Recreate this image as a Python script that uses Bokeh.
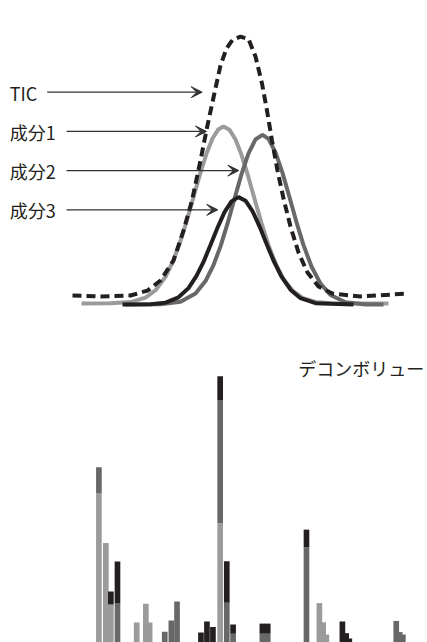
from bokeh.plotting import figure
from bokeh.layouts import column
from bokeh.models import ColumnDataSource, Range1d, Arrow, VeeHead
from bokeh.core.properties import value
from bokeh.embed import file_html
from bokeh.resources import INLINE
import pandas as pd

# ---------------- chromatogram (retention time, relative intensity) ----------------
tic_t = [6.4, 9.2, 12.2, 13.9, 15.2, 16.5, 17.5, 18.35, 19.2, 19.85, 20.5, 21.2, 21.8, 22.4,
         23.2, 24.0, 24.7, 25.35, 25.85, 26.35, 26.9, 27.5, 28.2, 29.0, 29.9, 31.0, 32.4, 35.2, 39.9]
tic_y = [4.5, 4.0, 4.5, 7.3, 13.0, 24.3, 41.2, 58.2, 80.8, 99.4, 116.4, 134.5, 144.1, 148.9,
         150.8, 149.4, 139.5, 124.3, 109.0, 92.1, 75.1, 59.3, 43.5, 28.8, 17.5, 9.6, 5.6, 4.0, 5.6]

c1_t = [7.3, 10.2, 12.2, 13.7, 14.7, 15.7, 16.4, 17.1, 17.8, 18.5, 19.2, 19.8, 20.4, 21.0, 21.5,
        22.1, 22.7, 23.3, 23.9, 24.6, 25.3, 26.0, 26.7, 27.5, 28.4, 29.4, 30.7, 32.2, 38.0]
c1_y = [0.0, 0.1, 0.8, 3.3, 7.5, 15.1, 23.2, 33.6, 46.2, 60.0, 74.0, 84.7, 93.2, 98.5, 100.0,
        98.2, 92.7, 84.0, 73.2, 59.2, 45.4, 33.0, 22.7, 13.8, 7.3, 3.2, 0.9, 0.2, 0.0]

c2_t = [11.7, 15.2, 17.2, 18.7, 19.7, 20.5, 21.2, 21.9, 22.6, 23.3, 24.0, 24.7, 25.4, 26.0,
        26.7, 27.4, 28.1, 28.8, 29.5, 30.3, 31.2, 32.2, 33.7, 35.7, 37.5]
c2_y = [-0.6, -0.4, 1.0, 5.6, 12.7, 21.7, 32.3, 45.1, 59.2, 73.1, 84.8, 92.7, 95.3, 93.0,
        85.4, 73.8, 60.0, 45.9, 33.0, 20.9, 11.2, 4.8, 0.7, -0.5, -0.6]

c3_t = [11.4, 14.2, 15.7, 17.0, 18.0, 18.8, 19.5, 20.2, 20.9, 21.6, 22.3, 23.0, 23.7, 24.4,
        25.1, 25.8, 26.5, 27.3, 28.2, 29.2, 30.7, 34.5]
c3_y = [-0.6, -0.4, 0.5, 3.5, 8.7, 15.6, 23.5, 33.0, 42.8, 51.6, 57.7, 60.1, 58.1, 52.2,
        43.6, 33.8, 24.3, 15.2, 7.8, 3.0, 0.2, -0.6]

curve_labels = ["TIC", "成分1", "成分2", "成分3"]

# ---------------- deconvoluted spectrum (m/z, stacked component intensities) ----------------
mz    = [28.7, 30.9, 32.5, 34.6, 40.7, 43.6, 44.8, 49.6, 51.7, 53.5, 61.1, 63.0, 64.9, 67.2,
         69.3, 71.3, 80.6, 82.3, 94.6, 98.7, 99.9, 100.9, 106.0, 107.2, 108.2, 123.1, 124.2, 125.2]
comp1 = [56.0, 37.4, 14.3, 0.0, 7.5, 14.6, 7.5, 0.0, 0.0, 0.0, 0.0, 0.0, 0.0, 44.8,
         0.0, 0.0, 0.0, 0.0, 0.0, 14.8, 7.6, 3.0, 0.0, 0.0, 0.0, 0.0, 0.0, 0.0]
comp2 = [9.8, 0.0, 0.0, 14.8, 0.0, 0.0, 0.0, 4.0, 8.3, 15.4, 0.0, 0.0, 0.0, 46.3,
         14.9, 3.3, 3.3, 3.3, 35.8, 0.0, 0.0, 0.0, 0.0, 0.0, 0.0, 8.1, 3.9, 3.0]
comp3 = [0.0, 0.0, 4.9, 15.6, 0.0, 0.0, 0.0, 0.0, 0.0, 0.0, 3.8, 7.9, 5.8, 8.9,
         15.6, 3.5, 3.8, 3.8, 6.6, 0.0, 0.0, 0.0, 7.9, 3.5, 1.5, 0.0, 0.0, 0.0]
spectrum_title = "デコンボリュー"

# ---------------- styles / layout ----------------
COL1, COL2, COL3, INK = "#9b9b9b", "#686868", "#231f20", "#333333"
FONT = value("Noto Sans CJK JP")
W = 427

def bare(p):
    p.toolbar_location = None
    p.outline_line_color = None
    p.xgrid.visible = False
    p.ygrid.visible = False
    p.min_border = 0
    p.background_fill_color = "white"
    p.border_fill_color = "white"
    return p

top = bare(figure(width=W, height=338, output_backend="svg", toolbar_location=None,
                  x_range=Range1d(-0.8, 41.9), y_range=Range1d(-19.77, 171.19),
                  x_axis_location=None, y_axis_location=None, min_border=0))

top.line(c1_t, c1_y, line_color=COL1, line_width=4)
top.line(c2_t, c2_y, line_color=COL2, line_width=4)
top.line(c3_t, c3_y, line_color=COL3, line_width=4)
top.line(tic_t, tic_y, line_color=COL3, line_width=4, line_dash="9 5")

label_x = 0.13
label_y = [118.8, 96.8, 74.6, 53.1]
arrow_x0 = [3.87, 5.8, 5.8, 5.8]
arrow_x1 = [19.37, 19.8, 23.03, 20.93]
arrow_y = [119.4, 97.2, 75.1, 52.9]

top.text(x=[label_x] * 4, y=label_y, text=curve_labels, text_font=FONT,
         text_font_size="18px", text_baseline="middle", text_align="left", text_color=COL3)
for x0, x1, yy in zip(arrow_x0, arrow_x1, arrow_y):
    top.add_layout(Arrow(end=VeeHead(size=11, fill_color=INK, line_color=INK, line_width=1),
                         x_start=x0, y_start=yy, x_end=x1, y_end=yy,
                         line_color=INK, line_width=1.3))

df = pd.DataFrame({"mz": mz, "comp1": comp1, "comp2": comp2, "comp3": comp3})
df["total"] = df.comp1 + df.comp2 + df.comp3
df = df.sort_values("total")  # taller peaks drawn over overlapping neighbours
src = ColumnDataSource(df)

bottom = bare(figure(width=W, height=304, output_backend="svg", toolbar_location=None,
                     x_range=Range1d(-2.54, 133.02), y_range=Range1d(0, 114.2),
                     x_axis_location=None, y_axis_location=None, min_border=0))
bottom.vbar_stack(["comp1", "comp2", "comp3"], x="mz", width=1.8,
                  color=[COL1, COL2, COL3], line_color=None, source=src)
bottom.text(x=[91.97], y=[103.3], text=[spectrum_title], text_font=FONT,
            text_font_size="18px", text_baseline="middle", text_align="left", text_color=COL3)

layout = column(top, bottom, spacing=0)
open("out.html", "w").write(file_html(layout, INLINE))
